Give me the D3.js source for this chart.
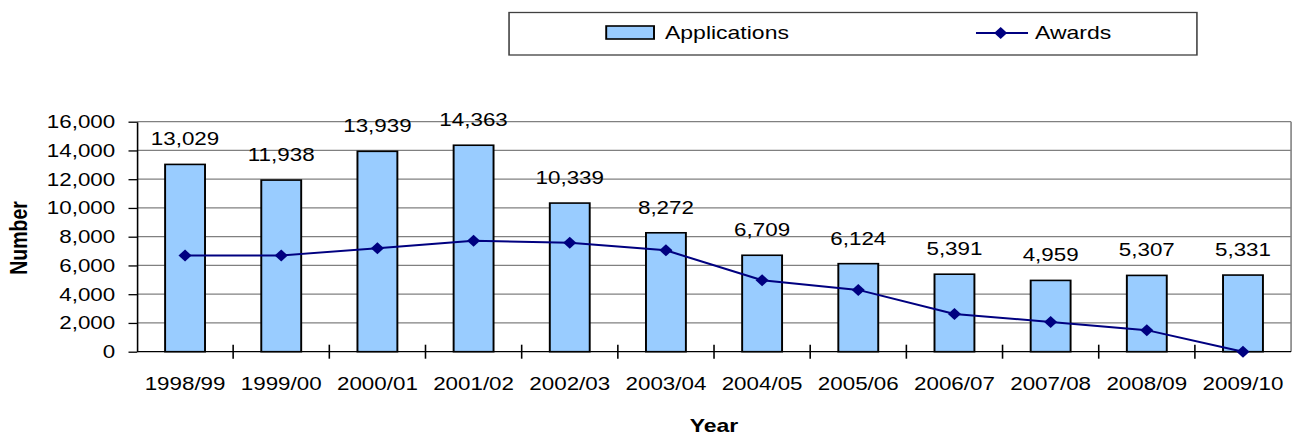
<!DOCTYPE html>
<html>
<head>
<meta charset="utf-8">
<script src="https://cdn.jsdelivr.net/npm/d3@7"></script>
<style>
    body { margin: 0; background: #ffffff; }
    svg { display: block; }
    text { font-family: "Liberation Sans", Arial, sans-serif; fill: #000; }
</style>
</head>
<body>
<div class="chart"></div>
<script>
var years = ["1998/99", "1999/00", "2000/01", "2001/02", "2002/03", "2003/04",
    "2004/05", "2005/06", "2006/07", "2007/08", "2008/09", "2009/10"];
var applications = [13029, 11938, 13939, 14363, 10339, 8272, 6709, 6124, 5391, 4959, 5307, 5331];
var awards = [6700, 6700, 7200, 7720, 7580, 7050, 4970, 4300, 2620, 2070, 1500, 0];
var yTicks = [0, 2000, 4000, 6000, 8000, 10000, 12000, 14000, 16000];
var seriesNames = ["Applications", "Awards"];

// the original picture is stretched sideways, so draw in narrower units and stretch the svg
var stretch = 1.21;
var W = 1297, H = 436;
var vw = W / stretch;

var svg = d3.select(".chart").append("svg")
    .attr("width", W)
    .attr("height", H)
    .attr("viewBox", "0 0 " + vw + " " + H)
    .attr("preserveAspectRatio", "none");

var plot = {left: 113.2, right: 1067, top: 121.7, bottom: 351.7};

var x = d3.scaleBand()
    .domain(years)
    .range([plot.left, plot.right])
    .padding(0);

var y = d3.scaleLinear()
    .domain([0, 16000])
    .range([plot.bottom, plot.top]);

var fmt = d3.format(",");
var barW = x.bandwidth() * 0.415;

// gridlines
svg.append("g")
    .selectAll("line")
    .data(yTicks.slice(1))
    .enter().append("line")
    .attr("x1", plot.left)
    .attr("x2", plot.right)
    .attr("y1", function (d) { return y(d); })
    .attr("y2", function (d) { return y(d); })
    .style("stroke", "#808080")
    .style("stroke-width", 1.3);

// right border of plot area
svg.append("line")
    .attr("x1", plot.right).attr("x2", plot.right)
    .attr("y1", plot.top).attr("y2", plot.bottom)
    .style("stroke", "#808080")
    .style("stroke-width", 1.3);

// bars
svg.append("g")
    .selectAll("rect")
    .data(applications)
    .enter().append("rect")
    .attr("x", function (d, i) { return x(years[i]) + x.bandwidth() / 2 - barW / 2; })
    .attr("y", function (d) { return y(d); })
    .attr("width", barW)
    .attr("height", function (d) { return plot.bottom - y(d); })
    .style("fill", "#99ccff")
    .style("stroke", "#000")
    .style("stroke-width", 1.6);

// value labels
svg.append("g")
    .selectAll("text")
    .data(applications)
    .enter().append("text")
    .attr("x", function (d, i) { return x(years[i]) + x.bandwidth() / 2; })
    .attr("y", function (d) { return y(d) - 19; })
    .style("text-anchor", "middle")
    .style("font-size", "18.5px")
    .text(function (d) { return fmt(d); });

// y axis
var yAxis = d3.axisLeft(y)
    .tickValues(yTicks)
    .tickFormat(fmt)
    .tickSizeInner(7)
    .tickSizeOuter(0)
    .tickPadding(11);

var gy = svg.append("g")
    .attr("transform", "translate(" + plot.left + ",0)")
    .call(yAxis);
gy.select(".domain").style("stroke", "#000").style("stroke-width", 1.3);
gy.selectAll(".tick line").style("stroke", "#000").style("stroke-width", 1.3);
gy.selectAll(".tick text")
    .style("font-size", "18.5px")
    .style("font-family", "Liberation Sans, Arial, sans-serif");

// x axis: cross ticks on category boundaries
svg.append("line")
    .attr("x1", plot.left).attr("x2", plot.right)
    .attr("y1", plot.bottom).attr("y2", plot.bottom)
    .style("stroke", "#000")
    .style("stroke-width", 1.3);

svg.append("g")
    .selectAll("line")
    .data(years.slice(1))
    .enter().append("line")
    .attr("x1", function (d) { return x(d); })
    .attr("x2", function (d) { return x(d); })
    .attr("y1", plot.bottom - 7)
    .attr("y2", plot.bottom + 7)
    .style("stroke", "#000")
    .style("stroke-width", 1.3);

svg.append("g")
    .selectAll("text")
    .data(years)
    .enter().append("text")
    .attr("x", function (d) { return x(d) + x.bandwidth() / 2; })
    .attr("y", 390)
    .style("text-anchor", "middle")
    .style("font-size", "18.5px")
    .text(function (d) { return d; });

// awards line
var line = d3.line()
    .x(function (d, i) { return x(years[i]) + x.bandwidth() / 2; })
    .y(function (d) { return y(d); });

svg.append("path")
    .datum(awards)
    .attr("d", line)
    .style("fill", "none")
    .style("stroke", "#000080")
    .style("stroke-width", 2);

var diamond = "M0,-6L5.4,0L0,6L-5.4,0Z";

svg.append("g")
    .selectAll("path")
    .data(awards)
    .enter().append("path")
    .attr("d", diamond)
    .attr("transform", function (d, i) {
        return "translate(" + (x(years[i]) + x.bandwidth() / 2) + "," + y(d) + ")";
    })
    .style("fill", "#000080");

// axis titles
svg.append("text")
    .attr("transform", "translate(22,238) rotate(-90)")
    .style("text-anchor", "middle")
    .style("font-size", "19.5px")
    .style("font-weight", "bold")
    .text("Number");

svg.append("text")
    .attr("x", (plot.left + plot.right) / 2)
    .attr("y", 432)
    .style("text-anchor", "middle")
    .style("font-size", "19px")
    .style("font-weight", "bold")
    .text("Year");

// legend
var legend = svg.append("g");

legend.append("rect")
    .attr("x", 420.7)
    .attr("y", 12.5)
    .attr("width", 568.5)
    .attr("height", 42.5)
    .style("fill", "#fff")
    .style("stroke", "#404040")
    .style("stroke-width", 1.3);

legend.append("rect")
    .attr("x", 501)
    .attr("y", 26)
    .attr("width", 39.5)
    .attr("height", 13)
    .style("fill", "#99ccff")
    .style("stroke", "#000")
    .style("stroke-width", 1.6);

legend.append("line")
    .attr("x1", 806.6).attr("x2", 849.6)
    .attr("y1", 33).attr("y2", 33)
    .style("stroke", "#000080")
    .style("stroke-width", 2);

legend.append("path")
    .attr("d", diamond)
    .attr("transform", "translate(827,33)")
    .style("fill", "#000080");

legend.selectAll("text.leg")
    .data(seriesNames)
    .enter().append("text")
    .attr("class", "leg")
    .attr("x", function (d, i) { return i === 0 ? 549.6 : 855.4; })
    .attr("y", 39.5)
    .style("font-size", "19px")
    .text(function (d) { return d; });
</script>
</body>
</html>
